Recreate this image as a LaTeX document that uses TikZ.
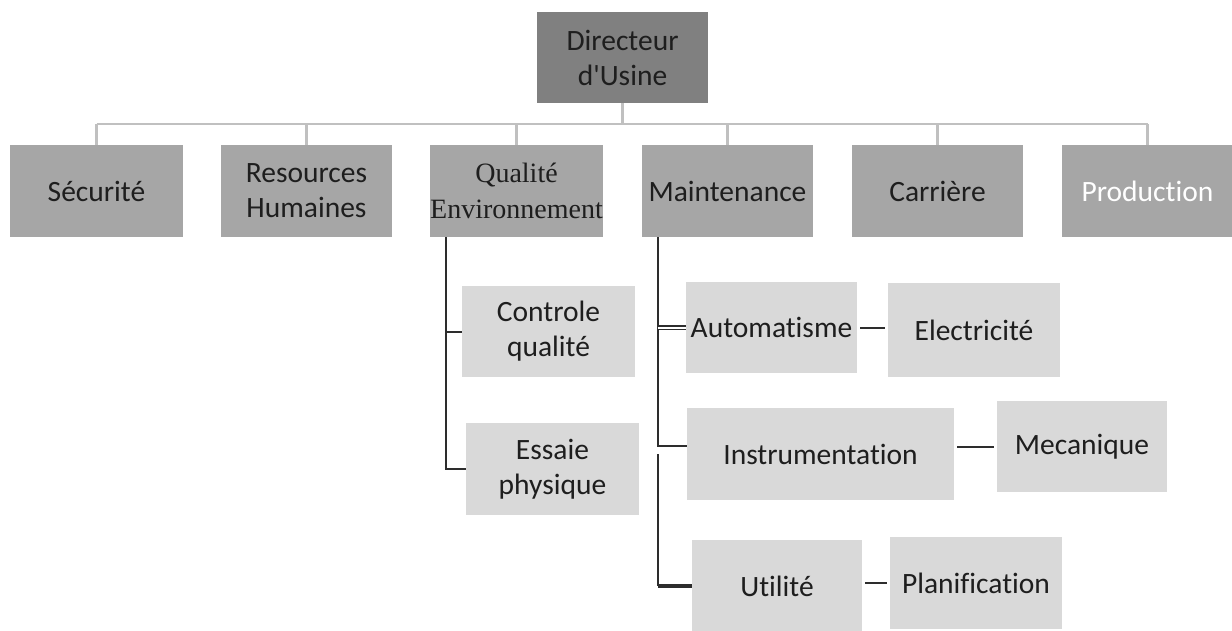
\documentclass[tikz,border=0pt]{standalone}
\usepackage{fontspec}
\newfontfamily\boxfont{Carlito}[Ligatures=NoCommon]
\newfontfamily\qefont{Liberation Serif}
\usepackage{tikz}
\usetikzlibrary{calc}
\definecolor{DirGray}{RGB}{128,128,128}
\definecolor{DeptGray}{RGB}{166,166,166}
\definecolor{SubGray}{RGB}{217,217,217}
\definecolor{BusGray}{RGB}{192,192,192}
\definecolor{LineDark}{RGB}{45,45,45}
\definecolor{TextDark}{RGB}{30,30,30}

\begin{document}
\begin{tikzpicture}[x=1pt,y=-1pt,
  box/.style={minimum width=171pt,minimum height=92pt,inner sep=0pt,align=center,
    text=TextDark,font=\boxfont\fontsize{29.5}{35}\selectfont},
  dept/.style={box,fill=DeptGray},
  sub/.style={box,fill=SubGray},
  bus/.style={BusGray,line width=2.5pt},
  link/.style={LineDark,line width=2pt}]
  \useasboundingbox[fill=white] (0,0) rectangle (1232,630);
  \node[box,fill=DirGray,minimum height=91pt] (dir) at (622.5,57.5) {Directeur\\d'Usine};
  \node[dept,minimum width=173pt] (sec) at (96.5,191) {Sécurité};
  \node[dept] (rh) at (306.5,191) {Resources\\Humaines};
  \node[dept,font=\qefont\fontsize{28}{36}\selectfont] (qe) at (516.5,191) {Qualité\\Environnement};
  \node[dept] (mnt) at (727.5,191) {Maintenance};
  \node[dept] (car) at (937.5,191) {Carrière};
  \node[dept,text=white] (prod) at (1147.5,191) {Production};
  \node[sub,minimum width=173pt,minimum height=91pt] (cq) at (548.5,331.5) {Controle\\qualité};
  \node[sub,minimum width=173pt] (ep) at (552.5,469) {Essaie\\physique};
  \node[sub,minimum height=91pt] (auto) at (771.5,327.5) {Automatisme};
  \node[sub,minimum width=172pt,minimum height=94pt] (elec) at (974,330) {Electricité};
  \node[sub,minimum width=267pt] (instr) at (820.5,454) {Instrumentation};
  \node[sub,minimum width=170pt,minimum height=91pt] (meca) at (1082,446.5) {Mecanique};
  \node[sub,minimum width=170pt] (util) at (777,586) {Utilité};
  \node[sub,minimum width=172pt] (plan) at (976,583) {Planification};
  \coordinate (bus) at (0,124);
  \draw[bus] (dir.south) -- (dir.south |- bus);
  \draw[bus] (sec.north |- bus) -- (prod.north |- bus);
  \foreach \d in {sec,rh,qe,mnt,car,prod}
    \draw[bus] (\d.north) -- (\d.north |- bus);
  \coordinate (qtop) at ([xshift=16pt]qe.south west);
  \draw[link] (qtop) |- (ep.west);
  \draw[link] (qtop |- cq.west) -- (cq.west);
  \coordinate (mtop) at ([xshift=16pt]mnt.south west);
  \coordinate (ibr) at ([yshift=8pt]instr.west);
  \draw[link] (mtop) |- (ibr);
  \draw[LineDark,line width=1.2pt,double,double distance=2pt] (mtop |- auto.west) -- (auto.west);
  \draw[link] ($(mtop |- ibr)+(0,8)$) -- (mtop |- util.west);
  \draw[link,line width=3.5pt] (mtop |- util.west) -- (util.west);
  \draw[link,shorten <=3pt,shorten >=3pt] (auto.east) -- (auto.east -| elec.west);
  \draw[link,shorten <=3pt,shorten >=3pt] (meca.west -| instr.east) -- (meca.west);
  \draw[link,shorten <=3pt,shorten >=3pt] (plan.west -| util.east) -- (plan.west);
\end{tikzpicture}
\end{document}
